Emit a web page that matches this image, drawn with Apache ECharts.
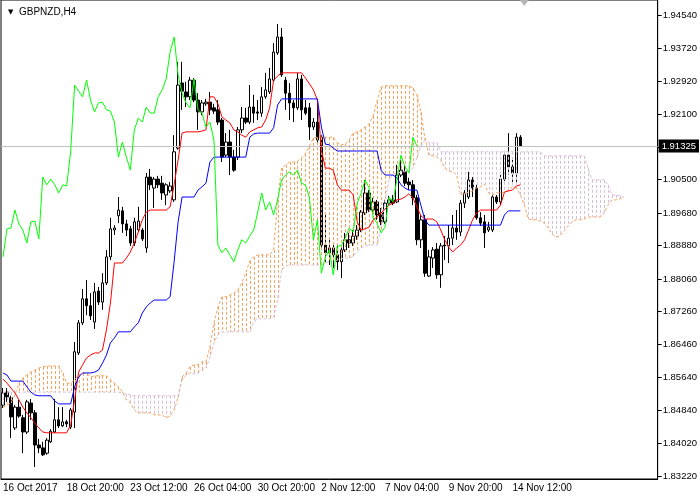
<!DOCTYPE html>
<html><head><meta charset="utf-8">
<script src="https://cdn.jsdelivr.net/npm/echarts@6/dist/echarts.min.js"></script>
<style>html,body{margin:0;padding:0;background:#fff}#c{width:700px;height:500px}</style>
</head><body><div id="c"></div>
<script>
const chartTitle = 'GBPNZD,H4';
const xTickLabels = ['16 Oct 2017','18 Oct 20:00','23 Oct 12:00','26 Oct 04:00','30 Oct 20:00','2 Nov 12:00','7 Nov 04:00','9 Nov 20:00','14 Nov 12:00'];
const yTickValues = [1.94540,1.93720,1.92920,1.92100,1.91300,1.90500,1.89680,1.88880,1.88060,1.87260,1.86460,1.85640,1.84840,1.84020,1.83220];
const yLabelValues = [1.94540,1.93720,1.92920,1.92100,1.90500,1.89680,1.88880,1.88060,1.87260,1.86460,1.85640,1.84840,1.84020,1.83220];
const lastPrice = 1.91325;
const priceMin = 1.83146, priceMax = 1.94908;

const open = [
1.8496,1.8528,1.8514,1.8440,1.8491,1.8465,1.8430,1.8501,1.8477,1.8398,
1.8391,1.8378,1.8406,1.8430,1.8460,1.8445,1.8455,1.8442,1.8479,1.8624,
1.8698,1.8757,1.8740,1.8700,1.8776,1.8749,1.8796,1.8860,1.8926,1.8961,
1.8973,1.8941,1.8929,1.8894,1.8926,1.8926,1.8882,1.9056,1.9029,1.9051,
1.9041,1.9012,1.9022,1.9000,1.9127,1.9287,1.9265,1.9253,1.9294,1.9245,
1.9216,1.9236,1.9240,1.9226,1.9221,1.9196,1.9110,1.9142,1.9105,1.9105,
1.9172,1.9201,1.9191,1.9228,1.9216,1.9213,1.9253,1.9265,1.9294,1.9361,
1.9400,1.9294,1.9262,1.9238,1.9226,1.9297,1.9226,1.9226,1.9179,1.9191,
1.9154,1.8889,1.8870,1.8882,1.8865,1.8848,1.8877,1.8902,1.8894,1.8911,
1.8926,1.8968,1.9017,1.8975,1.8995,1.8968,1.8946,1.8992,1.9000,1.8995,
1.9061,1.9069,1.9044,1.9037,1.9005,1.8902,1.8951,1.8813,1.8857,1.8879,
1.8816,1.8889,1.8887,1.8906,1.8931,1.8921,1.8992,1.9007,1.9049,1.9029,
1.8956,1.8946,1.8926,1.8926,1.9007,1.8995,1.9051,1.9110,1.9081,1.9066,
1.9154];
const close = [
1.8526,1.8516,1.8467,1.8491,1.8469,1.8430,1.8504,1.8477,1.8398,1.8391,
1.8374,1.8410,1.8432,1.8460,1.8445,1.8455,1.8450,1.8484,1.8627,1.8698,
1.8757,1.8740,1.8715,1.8774,1.8749,1.8796,1.8860,1.8929,1.8931,1.8975,
1.8941,1.8926,1.8894,1.8946,1.8948,1.8904,1.9056,1.9037,1.9051,1.9037,
1.9017,1.9037,1.9034,1.9118,1.9282,1.9267,1.9253,1.9294,1.9245,1.9216,
1.9238,1.9240,1.9221,1.9218,1.9191,1.9105,1.9142,1.9105,1.9073,1.9172,
1.9201,1.9191,1.9228,1.9213,1.9213,1.9253,1.9270,1.9297,1.9363,1.9400,
1.9307,1.9262,1.9238,1.9226,1.9297,1.9221,1.9213,1.9179,1.9191,1.9147,
1.8889,1.8870,1.8882,1.8865,1.8848,1.8877,1.8902,1.8894,1.8911,1.8926,
1.8970,1.9017,1.8975,1.8995,1.8963,1.8946,1.8992,1.9000,1.8992,1.9061,
1.9073,1.9041,1.9037,1.9005,1.8902,1.8951,1.8820,1.8860,1.8877,1.8816,
1.8887,1.8887,1.8906,1.8931,1.8921,1.8992,1.9017,1.9049,1.9029,1.8956,
1.8943,1.8919,1.8933,1.9007,1.8995,1.9051,1.9110,1.9081,1.9066,1.9154,
1.91325];
const low = [
1.8489,1.8504,1.8415,1.8435,1.8465,1.8378,1.8425,1.8460,1.8344,1.8378,
1.8371,1.8374,1.8403,1.8428,1.8440,1.8442,1.8442,1.8437,1.8440,1.8619,
1.8693,1.8717,1.8705,1.8683,1.8742,1.8730,1.8791,1.8852,1.8914,1.8943,
1.8919,1.8911,1.8887,1.8887,1.8921,1.8899,1.8870,1.9024,1.8980,1.9029,
1.9000,1.8987,1.9017,1.8995,1.9123,1.9221,1.9228,1.9245,1.9240,1.9172,
1.9208,1.9231,1.9208,1.9211,1.9184,1.9093,1.9105,1.9061,1.9069,1.9098,
1.9164,1.9186,1.9186,1.9189,1.9196,1.9204,1.9248,1.9260,1.9290,1.9356,
1.9302,1.9221,1.9196,1.9191,1.9221,1.9196,1.9208,1.9147,1.9172,1.9135,
1.8877,1.8848,1.8840,1.8833,1.8828,1.8808,1.8872,1.8882,1.8887,1.8902,
1.8921,1.8963,1.8970,1.8970,1.8951,1.8938,1.8941,1.8987,1.8987,1.8992,
1.9056,1.9034,1.9024,1.8987,1.8889,1.8882,1.8811,1.8811,1.8833,1.8806,
1.8784,1.8852,1.8845,1.8889,1.8902,1.8911,1.8980,1.9002,1.9007,1.8951,
1.8936,1.8882,1.8921,1.8921,1.8990,1.8987,1.9046,1.9061,1.9041,1.9041,
1.9130];
const high = [
1.8538,1.8538,1.8519,1.8496,1.8509,1.8472,1.8509,1.8511,1.8484,1.8413,
1.8406,1.8415,1.8437,1.8511,1.8491,1.8491,1.8460,1.8489,1.8651,1.8705,
1.8781,1.8803,1.8771,1.8796,1.8786,1.8820,1.8877,1.8956,1.8938,1.9007,
1.8983,1.8951,1.8936,1.8956,1.8983,1.8931,1.9066,1.9076,1.9056,1.9059,
1.9059,1.9041,1.9044,1.9159,1.9339,1.9339,1.9290,1.9302,1.9299,1.9262,
1.9245,1.9248,1.9265,1.9236,1.9245,1.9201,1.9164,1.9172,1.9123,1.9179,
1.9228,1.9226,1.9282,1.9258,1.9245,1.9277,1.9312,1.9324,1.9385,1.9432,
1.9422,1.9302,1.9287,1.9245,1.9312,1.9307,1.9245,1.9238,1.9201,1.9238,
1.9159,1.8963,1.8902,1.8894,1.8889,1.8889,1.8919,1.8919,1.8926,1.8938,
1.8975,1.9049,1.9024,1.9005,1.9000,1.8980,1.9000,1.9010,1.9012,1.9086,
1.9098,1.9086,1.9054,1.9049,1.9012,1.8963,1.8963,1.8877,1.8884,1.8894,
1.8894,1.8911,1.8938,1.8963,1.8975,1.9000,1.9024,1.9069,1.9056,1.9037,
1.8970,1.8963,1.8946,1.9012,1.9012,1.9061,1.9118,1.9164,1.9098,1.9164,
1.9159];
const tenkan = [
1.8560,1.8550,1.8538,1.8526,1.8509,1.8491,1.8477,1.8465,1.8452,1.8440,
1.8430,1.8428,1.8428,1.8428,1.8428,1.8428,1.8428,1.8447,1.8509,1.8577,
1.8595,1.8612,1.8619,1.8624,1.8624,1.8631,1.8681,1.8747,1.8845,1.8845,
1.8845,1.8857,1.8872,1.8894,1.8921,1.8951,1.8970,1.8975,1.8975,1.8975,
1.8975,1.8975,1.8983,1.9037,1.9098,1.9164,1.9167,1.9167,1.9167,1.9167,
1.9169,1.9172,1.9253,1.9253,1.9236,1.9204,1.9196,1.9189,1.9172,1.9167,
1.9159,1.9154,1.9167,1.9172,1.9177,1.9179,1.9196,1.9226,1.9294,1.9304,
1.9312,1.9312,1.9312,1.9312,1.9312,1.9312,1.9299,1.9285,1.9270,1.9245,
1.9123,1.9078,1.9078,1.9073,1.9037,1.9024,1.9024,1.9024,1.9012,1.8946,
1.8926,1.8929,1.8933,1.8951,1.8958,1.8968,1.8978,1.8987,1.8992,1.9000,
1.9002,1.9007,1.9015,1.9005,1.8983,1.8961,1.8953,1.8953,1.8953,1.8946,
1.8926,1.8902,1.8884,1.8872,1.8882,1.8889,1.8902,1.8926,1.8951,1.8968,
1.8975,1.8975,1.8975,1.8975,1.8975,1.8987,1.9019,1.9022,1.9024,1.9034,
1.9037];
const kijun = [
1.8575,1.8570,1.8555,1.8555,1.8555,1.8555,1.8541,1.8528,1.8521,1.8519,
1.8519,1.8519,1.8519,1.8506,1.8499,1.8499,1.8499,1.8499,1.8541,1.8565,
1.8575,1.8575,1.8575,1.8577,1.8582,1.8599,1.8619,1.8649,1.8661,1.8676,
1.8676,1.8676,1.8676,1.8688,1.8698,1.8722,1.8737,1.8747,1.8754,1.8754,
1.8754,1.8754,1.8762,1.8848,1.8946,1.9007,1.9007,1.9007,1.9007,1.9024,
1.9032,1.9041,1.9093,1.9105,1.9105,1.9105,1.9105,1.9105,1.9105,1.9105,
1.9105,1.9105,1.9154,1.9162,1.9164,1.9164,1.9164,1.9164,1.9177,1.9233,
1.9248,1.9248,1.9248,1.9248,1.9248,1.9248,1.9248,1.9248,1.9248,1.9248,
1.9179,1.9137,1.9135,1.9127,1.9120,1.9120,1.9120,1.9120,1.9120,1.9120,
1.9120,1.9120,1.9120,1.9120,1.9120,1.9073,1.9061,1.9061,1.9061,1.9054,
1.9037,1.9029,1.9024,1.9024,1.9024,1.8987,1.8951,1.8938,1.8938,1.8938,
1.8938,1.8938,1.8938,1.8938,1.8938,1.8938,1.8938,1.8938,1.8938,1.8938,
1.8938,1.8938,1.8938,1.8938,1.8938,1.8938,1.8963,1.8973,1.8973,1.8973,
1.8973];
const chikou = [
1.8860,1.8929,1.8931,1.8975,1.8941,1.8926,1.8894,1.8946,1.8948,1.8904,
1.9056,1.9037,1.9051,1.9037,1.9017,1.9037,1.9034,1.9118,1.9282,1.9267,
1.9253,1.9294,1.9245,1.9216,1.9238,1.9240,1.9221,1.9218,1.9191,1.9105,
1.9142,1.9105,1.9073,1.9172,1.9201,1.9191,1.9228,1.9213,1.9213,1.9253,
1.9270,1.9297,1.9363,1.9400,1.9307,1.9262,1.9238,1.9226,1.9297,1.9221,
1.9213,1.9179,1.9191,1.9147,1.8889,1.8870,1.8882,1.8865,1.8848,1.8877,
1.8902,1.8894,1.8911,1.8926,1.8970,1.9017,1.8975,1.8995,1.8963,1.9000,
1.9049,1.9061,1.9069,1.9061,1.9073,1.9041,1.9037,1.9005,1.8902,1.8951,
1.8820,1.8860,1.8877,1.8816,1.8887,1.8887,1.8906,1.8931,1.8921,1.8992,
1.9017,1.9049,1.9029,1.8956,1.8943,1.8919,1.8933,1.9007,1.8995,1.9051,
1.9110,1.9081,1.9066,1.9154,1.91325];
const senkouA = [
1.8491,1.8496,1.8501,1.8521,1.8550,1.8563,1.8570,1.8577,1.8582,1.8587,
1.8590,1.8592,1.8592,1.8592,1.8592,1.8575,1.8550,1.8550,1.8558,1.8570,
1.8575,1.8575,1.8565,1.8568,1.8568,1.8568,1.8568,1.8558,1.8550,1.8541,
1.8528,1.8509,1.8501,1.8484,1.8477,1.8477,1.8477,1.8477,1.8472,1.8472,
1.8472,1.8465,1.8469,1.8484,1.8514,1.8565,1.8575,1.8590,1.8595,1.8595,
1.8602,1.8602,1.8639,1.8698,1.8737,1.8762,1.8762,1.8766,1.8771,1.8779,
1.8796,1.8820,1.8850,1.8860,1.8865,1.8865,1.8865,1.8865,1.8877,1.9000,
1.9078,1.9086,1.9093,1.9093,1.9095,1.9103,1.9113,1.9132,1.9152,1.9154,
1.9154,1.9154,1.9154,1.9154,1.9140,1.9135,1.9137,1.9147,1.9164,1.9167,
1.9172,1.9179,1.9186,1.9206,1.9243,1.9277,1.9280,1.9280,1.9280,1.9280,
1.9280,1.9280,1.9280,1.9275,1.9258,1.9216,1.9152,1.9110,1.9108,1.9105,
1.9098,1.9078,1.9071,1.9069,1.9061,1.9012,1.9015,1.9019,1.9022,1.9029,
1.9032,1.9039,1.9017,1.9012,1.9017,1.9017,1.9019,1.9024,1.9032,1.9029,
1.9012,1.8987,1.8953,1.8951,1.8951,1.8948,1.8943,1.8931,1.8916,1.8909,
1.8911,1.8924,1.8936,1.8946,1.8951,1.8951,1.8953,1.8958,1.8958,1.8958,
1.8958,1.8968,1.8987,1.9000,1.9000,1.9002,1.9007];
const senkouB = [
1.8528,1.8528,1.8528,1.8528,1.8528,1.8528,1.8528,1.8528,1.8528,1.8528,
1.8528,1.8528,1.8528,1.8528,1.8528,1.8528,1.8528,1.8528,1.8528,1.8528,
1.8528,1.8528,1.8528,1.8528,1.8528,1.8528,1.8528,1.8528,1.8528,1.8528,
1.8526,1.8523,1.8521,1.8519,1.8519,1.8519,1.8519,1.8519,1.8519,1.8519,
1.8519,1.8519,1.8519,1.8519,1.8519,1.8558,1.8570,1.8575,1.8572,1.8575,
1.8580,1.8587,1.8614,1.8649,1.8668,1.8676,1.8676,1.8676,1.8676,1.8676,
1.8676,1.8676,1.8676,1.8700,1.8708,1.8708,1.8708,1.8708,1.8712,1.8754,
1.8828,1.8838,1.8840,1.8840,1.8840,1.8840,1.8840,1.8840,1.8840,1.8840,
1.8840,1.8845,1.8848,1.8850,1.8852,1.8855,1.8857,1.8857,1.8862,1.8872,
1.8882,1.8887,1.8889,1.8889,1.8889,1.8926,1.9000,1.9049,1.9064,1.9064,
1.9069,1.9069,1.9069,1.9078,1.9103,1.9132,1.9147,1.9140,1.9140,1.9140,
1.9118,1.9118,1.9118,1.9118,1.9118,1.9118,1.9118,1.9118,1.9118,1.9118,
1.9118,1.9118,1.9118,1.9118,1.9118,1.9118,1.9118,1.9118,1.9118,1.9118,
1.9118,1.9118,1.9118,1.9118,1.9118,1.9118,1.9108,1.9108,1.9108,1.9108,
1.9108,1.9108,1.9108,1.9108,1.9108,1.9108,1.9108,1.9078,1.9049,1.9049,
1.9049,1.9049,1.9037,1.9012,1.9012,1.9010,1.9007];

const totalSlots = 165, labelStep = 16, lastLabelIndex = 128, shiftIndex = 131;
const categories = Array.from({length: totalSlots}, (_, i) => String(i));
const candleData = open.map((o, i) => [o, close[i], low[i], high[i]]);
const cloudData = senkouA.map((a, i) => [i, a, senkouB[i]]);
const FONT = 'Liberation Sans';
const colA = '#f4a460', colB = '#d8bfd8';
const showTick = (idx) => idx % labelStep === 0 && idx <= lastLabelIndex;

const chart = echarts.init(document.getElementById('c'), null, {renderer: 'canvas'});
chart.setOption({
  animation: false,
  backgroundColor: '#fff',
  title: {
    text: '{t|▼}  ' + chartTitle, left: 3, top: 2,
    textStyle: {fontFamily: FONT, fontSize: 10, fontWeight: 'normal', color: '#000',
      rich: {t: {fontSize: 7, fontFamily: 'DejaVu Sans', color: '#000'}}}
  },
  grid: {left: 0, right: 40, top: 0, bottom: 21, show: true, borderColor: '#000', borderWidth: 1, backgroundColor: '#fff'},
  xAxis: {
    type: 'category', data: categories, boundaryGap: true,
    axisLine: {lineStyle: {color: '#000', width: 1}},
    axisTick: {alignWithLabel: true, interval: showTick, length: 4, lineStyle: {color: '#000'}},
    axisLabel: {interval: showTick, align: 'left', margin: 4, color: '#000', fontSize: 10, fontFamily: FONT,
      formatter: (v, i) => xTickLabels[i / labelStep] || ''},
    splitLine: {show: false}
  },
  yAxis: {
    type: 'value', position: 'right', min: priceMin, max: priceMax,
    splitLine: {show: false},
    axisLine: {show: true, lineStyle: {color: '#000'}},
    axisTick: {show: true, length: 4, customValues: yTickValues, lineStyle: {color: '#000'}},
    axisLabel: {customValues: yLabelValues, formatter: v => v.toFixed(5), color: '#000', fontSize: 9.5, fontFamily: FONT, margin: 5}
  },
  series: [
    {
      type: 'line', name: 'price', data: [], z: 1, silent: true,
      markLine: {
        silent: true, symbol: ['none', 'none'], animation: false, precision: 5,
        data: [{yAxis: lastPrice}],
        lineStyle: {color: '#c0c0c0', width: 1, type: 'solid'},
        label: {show: true, position: 'end', distance: 1, formatter: () => lastPrice.toFixed(5),
          color: '#fff', backgroundColor: '#000', padding: [2, 3, 1, 3], fontSize: 9.5, fontFamily: FONT}
      }
    },
    {
      type: 'candlestick', name: 'GBPNZD', data: candleData, barWidth: 3, z: 2,
      itemStyle: {color: '#fff', color0: '#000', borderColor: '#000', borderColor0: '#000', borderWidth: 1},
      markPoint: {
        silent: true, label: {show: false},
        data: [{coord: [String(shiftIndex), priceMax], symbol: 'triangle', symbolRotate: 180, symbolSize: [9, 6], symbolOffset: [0, 3], itemStyle: {color: '#b4b4b4'}}]
      }
    },
    {
      type: 'custom', name: 'cloud', data: cloudData, z: 3, silent: true,
      encode: {x: 0, y: [1, 2]},
      renderItem: (params, api) => {
        const i = api.value(0), a = api.value(1), b = api.value(2);
        const pa = api.coord([i, a]), pb = api.coord([i, b]);
        const x = Math.round(pa[0]) + 0.5;
        return {type: 'line', shape: {x1: x, y1: Math.min(pa[1], pb[1]), x2: x, y2: Math.max(pa[1], pb[1])},
          style: {stroke: a >= b ? colA : colB, lineWidth: 1, lineDash: [3, 2]}};
      }
    },
    {type: 'line', name: 'Senkou A', data: senkouA, z: 4, showSymbol: false, silent: true, lineStyle: {color: colA, width: 1, type: [3, 2]}},
    {type: 'line', name: 'Senkou B', data: senkouB, z: 4, showSymbol: false, silent: true, lineStyle: {color: colB, width: 1, type: [3, 2]}},
    {type: 'line', name: 'Tenkan', data: tenkan, z: 5, showSymbol: false, silent: true, lineStyle: {color: '#ff0000', width: 1}},
    {type: 'line', name: 'Kijun', data: kijun, z: 5, showSymbol: false, silent: true, lineStyle: {color: '#0000ff', width: 1}},
    {type: 'line', name: 'Chikou', data: chikou, z: 5, showSymbol: false, silent: true, lineStyle: {color: '#00ff00', width: 1}}
  ]
});
</script>
</body></html>
